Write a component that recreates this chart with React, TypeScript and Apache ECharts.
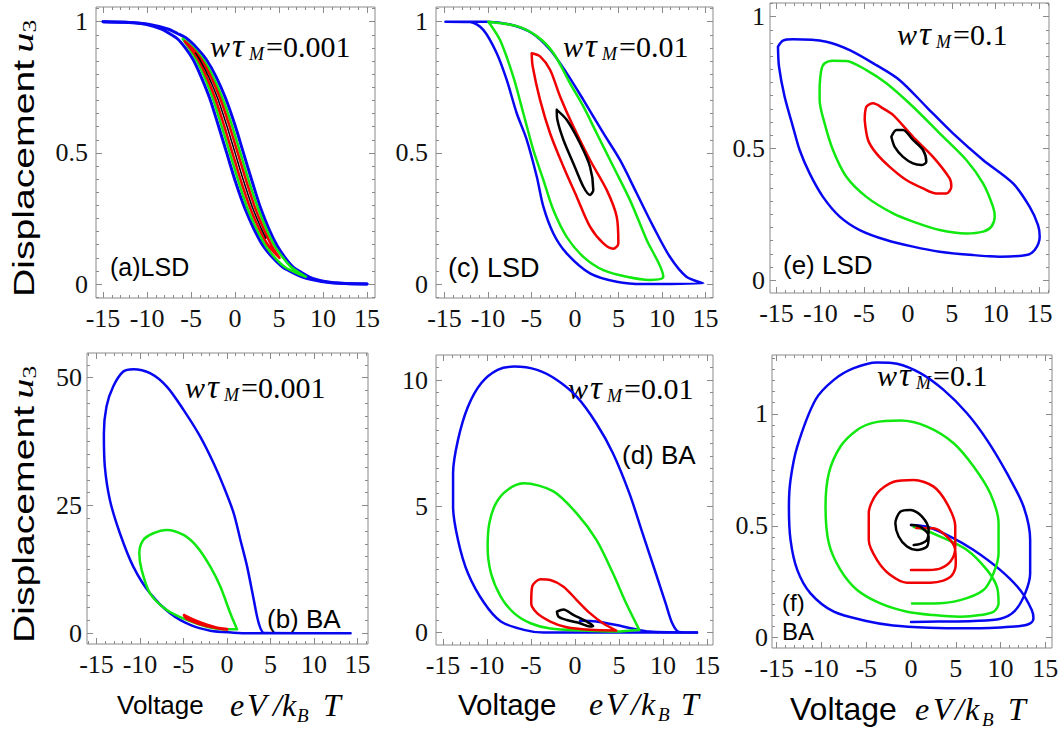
import React, { useEffect, useRef } from 'react';
import * as echarts from 'echarts';

type Pt = [number, number];

// ---------- tick labels ----------
const xTicks = [-15, -10, -5, 0, 5, 10, 15];
const yTicksUnit = [0, 0.5, 1];
const yTicksB = [0, 25, 50];
const yTicksD = [0, 5, 10];
const wValues = ['0.001', '0.01', '0.1'];

// ---------- (a) LSD, w tau = 0.001 ----------
const aBlueUpper: Pt[] = [[-15,1],[-11.95,0.997],[-9.85,0.99],[-7.65,0.972],[-6.55,0.955],[-5.45,0.935],[-4.35,0.9],[-3.25,0.855],[-2.15,0.79],[-1.1,0.71],[-0.05,0.61],[0.95,0.5],[1.95,0.39],[2.9,0.29],[3.85,0.21],[4.8,0.145],[5.7,0.1],[6.6,0.065],[7.5,0.045],[8.4,0.028],[9.3,0.017],[10.2,0.01],[12.1,0.003],[15,0]];
const aBlueLower: Pt[] = [[15,0],[11.9,0.003],[9.8,0.01],[8.7,0.017],[7.6,0.028],[6.5,0.045],[5.4,0.065],[4.3,0.1],[3.2,0.145],[2.15,0.21],[1.1,0.29],[0.05,0.39],[-0.95,0.5],[-1.95,0.61],[-2.9,0.71],[-3.85,0.79],[-4.75,0.855],[-5.65,0.9],[-6.55,0.935],[-7.45,0.955],[-8.35,0.972],[-10.15,0.99],[-12.05,0.997],[-15,1]];
const aGreen: Pt[] = [[-5.95,0.935],[-4.75,0.9],[-3.6,0.855],[-2.5,0.79],[-1.45,0.71],[-0.4,0.61],[0.6,0.5],[1.6,0.39],[2.6,0.29],[3.55,0.21],[4.5,0.145],[5.45,0.1],[6.35,0.065],[7.2,0.045],[8.05,0.028],[6.8,0.045],[5.65,0.065],[4.55,0.1],[3.5,0.145],[2.45,0.21],[1.4,0.29],[0.4,0.39],[-0.6,0.5],[-1.6,0.61],[-2.55,0.71],[-3.5,0.79],[-4.4,0.855],[-5.25,0.9],[-5.95,0.935]];
const aRed: Pt[] = [[-5.7,0.925],[-4.9,0.9],[-3.82,0.855],[-2.75,0.79],[-1.72,0.71],[-0.7,0.61],[0.3,0.5],[1.3,0.39],[2.28,0.29],[3.25,0.21],[4.18,0.145],[5.05,0.1],[3.82,0.145],[2.75,0.21],[1.72,0.29],[0.7,0.39],[-0.3,0.5],[-1.3,0.61],[-2.28,0.71],[-3.25,0.79],[-4.18,0.855],[-5.1,0.9],[-5.7,0.925]];
const aBlack: Pt[] = [[-4.5,0.88],[-4,0.855],[-3,0.79],[-2,0.71],[-1,0.61],[0,0.5],[1,0.39],[2,0.29],[3,0.21],[3.5,0.175]];

// ---------- (c) LSD, w tau = 0.01 ----------
const cBlue: Pt[] = [[-14.9,1],[-10.15,1],[-7.47,0.989],[-4.98,0.957],[-2.87,0.893],[-0.96,0.804],[0.96,0.702],[3.26,0.575],[5.17,0.473],[7.09,0.346],[9.0,0.219],[10.9,0.104],[12.8,0.028],[14.75,0.003],[7.85,0],[4.79,0.009],[1.72,0.041],[-0.96,0.117],[-2.49,0.193],[-3.64,0.295],[-4.4,0.41],[-5.55,0.55],[-6.7,0.651],[-7.85,0.778],[-9.0,0.88],[-10.54,0.969],[-12.07,0.999],[-14.9,1]];
const cGreen: Pt[] = [[-9.96,1],[-6.7,0.983],[-4.4,0.945],[-2.49,0.881],[-0.57,0.765],[0.96,0.677],[2.49,0.575],[4.4,0.448],[6.32,0.32],[8.24,0.168],[10.15,0.028],[8.6,0.016],[5.94,0.028],[3.26,0.053],[0.96,0.104],[-0.96,0.18],[-2.49,0.282],[-3.64,0.397],[-4.79,0.511],[-5.94,0.651],[-7.09,0.79],[-8.62,0.93],[-9.96,1]];
const cRed: Pt[] = [[-4.98,0.88],[-4.02,0.868],[-2.87,0.817],[-1.72,0.715],[-0.19,0.6],[1.72,0.473],[3.64,0.359],[4.79,0.257],[4.98,0.155],[4.4,0.135],[3.26,0.155],[1.72,0.219],[0.19,0.333],[-1.34,0.448],[-2.87,0.575],[-4.02,0.702],[-4.87,0.83],[-4.98,0.88]];
const cBlack: Pt[] = [[-2.1,0.664],[-0.96,0.626],[0.57,0.537],[1.72,0.448],[2.1,0.359],[1.72,0.34],[0.96,0.371],[-0.19,0.46],[-1.34,0.55],[-2.03,0.626],[-2.1,0.664]];

// ---------- (e) LSD, w tau = 0.1 ----------
const eBlue: Pt[] = [[-14.83,0.886],[-14.26,0.909],[-13.12,0.914],[-9.32,0.905],[-6.65,0.873],[-3.61,0.816],[-0.95,0.759],[2.09,0.658],[5.13,0.557],[8.56,0.456],[11.98,0.367],[13.88,0.278],[14.83,0.209],[15.02,0.165],[14.45,0.114],[13.5,0.095],[10.46,0.089],[7.41,0.095],[3.61,0.108],[0.57,0.127],[-2.47,0.152],[-5.51,0.19],[-7.79,0.241],[-9.7,0.316],[-11.22,0.405],[-12.36,0.494],[-13.12,0.582],[-14.07,0.696],[-14.71,0.81],[-14.83,0.886]];
const eGreen: Pt[] = [[-10.08,0.734],[-9.89,0.797],[-9.51,0.823],[-8.56,0.833],[-7.03,0.832],[-4.75,0.797],[-2.47,0.747],[0.57,0.658],[3.61,0.557],[6.65,0.456],[8.56,0.367],[9.7,0.278],[9.89,0.241],[9.51,0.203],[8.56,0.184],[6.65,0.177],[3.61,0.19],[0.57,0.222],[-1.71,0.253],[-4.75,0.316],[-7.03,0.392],[-8.56,0.494],[-9.51,0.595],[-10.08,0.684],[-10.08,0.734]];
const eRed: Pt[] = [[-4.94,0.608],[-4.75,0.658],[-3.99,0.671],[-2.85,0.652],[-1.71,0.627],[0.57,0.544],[2.85,0.468],[4.75,0.386],[4.94,0.354],[4.37,0.329],[3.23,0.329],[1.71,0.348],[-0.19,0.38],[-2.09,0.43],[-3.61,0.481],[-4.56,0.532],[-4.94,0.608]];
const eBlack: Pt[] = [[-1.9,0.544],[-1.33,0.57],[-0.57,0.57],[0.57,0.532],[1.71,0.494],[2.09,0.449],[1.52,0.437],[0.57,0.443],[-0.57,0.468],[-1.52,0.506],[-1.9,0.544]];

// ---------- (b) BA, w tau = 0.001 ----------
const bBlue: Pt[] = [[14.2,0],[4.3,0.05],[3.65,1.96],[3.08,6.52],[2.31,13.04],[1.54,18.25],[0.77,23.47],[-0.38,28.68],[-1.54,33.25],[-3.08,38.46],[-5.0,43.68],[-6.92,48.24],[-8.85,50.85],[-10.77,51.63],[-11.92,51.17],[-13.08,48.24],[-13.85,44.33],[-14.15,39.11],[-14.04,32.59],[-13.46,26.08],[-12.31,19.56],[-10.77,13.04],[-8.85,7.82],[-6.54,3.91],[-4.23,1.63],[-1.92,0.52],[0.77,0.13],[2.5,0],[4.5,0]];
const bGreen: Pt[] = [[1.15,0.78],[0.38,3.91],[-0.77,9.13],[-1.92,13.04],[-3.46,16.95],[-5.0,19.23],[-6.92,20.21],[-8.46,19.56],[-9.62,18.25],[-10.08,15.65],[-9.81,12.39],[-8.85,7.82],[-6.92,4.56],[-4.62,2.61],[-2.31,1.3],[0,0.78],[1.15,0.78]];
const bRed: Pt[] = [[-4.92,3.52],[-3.85,2.61],[-2.31,1.63],[-0.77,0.91],[0,0.78],[-1.54,1.17],[-3.08,1.83],[-4.62,2.87],[-4.92,3.52]];

// ---------- (d) BA, w tau = 0.01 ----------
const dBlueStart: Pt[] = [[0.56,0.47],[2.43,0.44],[4.68,0.3],[6.93,0.13],[8.43,0.04],[11,0.01],[13.86,0]];
const dBlue: Pt[] = [[13.86,0],[-3.56,0],[-5.81,0.11],[-8.43,0.44],[-10.3,1.16],[-12.17,2.35],[-13.3,3.67],[-13.86,4.99],[-13.86,6.31],[-13.3,7.63],[-12.17,8.94],[-10.67,9.87],[-8.8,10.4],[-6.93,10.53],[-4.31,10.4],[-2.06,10.0],[0.19,9.34],[2.43,8.28],[4.31,7.1],[6.18,5.51],[7.68,3.93],[9.18,2.35],[10.3,1.16],[11.05,0.37],[11.8,0.03],[13.86,0]];
const dGreen: Pt[] = [[7.3,0.11],[5.81,1.16],[4.31,2.35],[2.43,3.67],[0.19,4.72],[-2.5,5.6],[-5.81,5.91],[-7.68,5.65],[-8.99,5.12],[-9.74,4.33],[-9.93,3.4],[-9.55,2.35],[-8.43,1.42],[-6.93,0.77],[-5.06,0.37],[-2.81,0.16],[0.94,0.08],[4.68,0.04],[7.3,0.11]];
const dRed: Pt[] = [[4.68,0.08],[3.18,0.37],[1.69,0.77],[0.19,1.29],[-1.31,1.82],[-2.81,2.08],[-3.93,2.11],[-4.87,1.82],[-4.98,1.16],[-4.31,0.77],[-2.81,0.44],[-0.94,0.21],[1.69,0.11],[4.68,0.08]];
const dBlack: Pt[] = [[-2.06,0.83],[-1.31,0.92],[-0.19,0.7],[1.31,0.44],[2.06,0.26],[1.69,0.24],[0.56,0.37],[-0.94,0.5],[-1.87,0.63],[-2.06,0.83]];

// ---------- (f) BA, w tau = 0.1 ----------
const fBlue: Pt[] = [[0,0.504],[1.78,0.496],[4.39,0.452],[6.99,0.392],[9.96,0.303],[12.19,0.213],[13.49,0.124],[13.68,0.086],[13.31,0.064],[12.19,0.052],[9.96,0.046],[6,0.042],[2,0.045],[-2,0.055],[-5,0.075],[-8.62,0.116],[-11.23,0.198],[-12.71,0.303],[-13.46,0.437],[-13.64,0.586],[-13.46,0.705],[-12.71,0.854],[-10.67,1.063],[-8.62,1.152],[-6.39,1.204],[-3.79,1.23],[-1.56,1.224],[1.04,1.182],[3.64,1.107],[6.25,1.003],[8.48,0.884],[10.71,0.735],[12.57,0.586],[13.31,0.437],[13.31,0.288],[12.75,0.198],[11.6,0.12],[10,0.085],[7,0.075],[3,0.072],[0,0.07]];
const fGreen: Pt[] = [[0.3,0.495],[1.04,0.489],[3.27,0.452],[6.25,0.392],[8.48,0.303],[9.59,0.228],[9.78,0.153],[9.22,0.116],[7.73,0.101],[5.5,0.094],[2.53,0.101],[-0.45,0.116],[-3.42,0.153],[-6.02,0.213],[-7.88,0.303],[-9.18,0.422],[-9.55,0.586],[-9.18,0.735],[-7.88,0.854],[-6.02,0.928],[-4.16,0.961],[-1.19,0.97],[1.78,0.943],[4.76,0.869],[6.99,0.765],[8.85,0.645],[9.78,0.511],[9.78,0.377],[9.22,0.288],[8.1,0.213],[5.5,0.168],[2.53,0.153],[0.11,0.153]];
const fRed: Pt[] = [[0.6,0.49],[2.53,0.489],[4.01,0.452],[4.9,0.4],[5.0,0.33],[4.6,0.28],[3.6,0.255],[2.16,0.246],[-0.45,0.246],[-2.3,0.28],[-3.79,0.347],[-4.72,0.437],[-4.72,0.556],[-3.79,0.645],[-1.93,0.697],[0.3,0.705],[2.53,0.675],[4.01,0.6],[4.94,0.5],[4.94,0.4],[4.4,0.34],[3.3,0.31],[2.0,0.303],[0,0.303]];
const fBlack: Pt[] = [[0,0.504],[1.04,0.496],[1.97,0.452],[1.78,0.407],[0.67,0.392],[-0.45,0.407],[-1.38,0.452],[-1.75,0.511],[-1.19,0.563],[-0.07,0.571],[1.23,0.541],[1.97,0.481],[1.78,0.437],[1.04,0.419],[0.3,0.414]];

// ---------- styles ----------
const BLUE = '#0808f0';
const GREEN = '#10e810';
const RED = '#f00000';
const BLACK = '#000000';
const FRAME = '#8a8a8a';
const SERIF = 'Liberation Serif';
const SANS = 'Liberation Sans';

type SeriesSpec = { data: Pt[]; color: string; width: number };
type PanelSpec = {
  grid: [number, number, number, number];
  x: [number, number];
  y: [number, number];
  yTicks: number[];
  yMinor: number;
  yMargin: number;
  lines: SeriesSpec[];
};

const panels: PanelSpec[] = [
  { grid: [96, 7, 279, 291], x: [-15.8, 15.9], y: [-0.053, 1.056], yTicks: yTicksUnit, yMinor: 0.05, yMargin: 8,
    lines: [
      { data: aBlueUpper, color: BLUE, width: 3 }, { data: aBlueLower, color: BLUE, width: 3 },
      { data: aGreen, color: GREEN, width: 2.5 }, { data: aRed, color: RED, width: 2.5 }, { data: aBlack, color: BLACK, width: 1.5 },
    ] },
  { grid: [436, 7, 277, 291], x: [-15.98, 15.86], y: [-0.053, 1.056], yTicks: yTicksUnit, yMinor: 0.05, yMargin: 8,
    lines: [
      { data: cBlue, color: BLUE, width: 2.5 }, { data: cGreen, color: GREEN, width: 2.5 },
      { data: cRed, color: RED, width: 2.5 }, { data: cBlack, color: BLACK, width: 2.5 },
    ] },
  { grid: [770, 3, 279, 290], x: [-15.74, 16.08], y: [-0.049, 1.052], yTicks: yTicksUnit, yMinor: 0.05, yMargin: 5,
    lines: [
      { data: eBlue, color: BLUE, width: 2.5 }, { data: eGreen, color: GREEN, width: 2.5 },
      { data: eRed, color: RED, width: 2.5 }, { data: eBlack, color: BLACK, width: 2.5 },
    ] },
  { grid: [87, 353, 281, 291], x: [-16.09, 16.2], y: [-2.09, 54.8], yTicks: yTicksB, yMinor: 2.5, yMargin: 5,
    lines: [
      { data: bBlue, color: BLUE, width: 2.5 }, { data: bGreen, color: GREEN, width: 2.5 },
      { data: bRed, color: RED, width: 3 },
    ] },
  { grid: [436, 355, 277, 290], x: [-15.8, 15.68], y: [-0.49, 10.99], yTicks: yTicksD, yMinor: 0.5, yMargin: 8,
    lines: [
      { data: dBlueStart, color: BLUE, width: 2.5 }, { data: dBlue, color: BLUE, width: 2.5 },
      { data: dGreen, color: GREEN, width: 2.5 }, { data: dRed, color: RED, width: 2.5 },
      { data: dBlack, color: BLACK, width: 2.5 },
    ] },
  { grid: [772, 355, 280, 293], x: [-15.53, 15.75], y: [-0.046, 1.263], yTicks: yTicksUnit, yMinor: 0.05, yMargin: 4,
    lines: [
      { data: fBlue, color: BLUE, width: 2.5 }, { data: fGreen, color: GREEN, width: 2.5 },
      { data: fRed, color: RED, width: 2.5 }, { data: fBlack, color: BLACK, width: 2.5 },
    ] },
];

function steps(min: number, max: number, step: number): number[] {
  const out: number[] = [];
  const k0 = Math.ceil(min / step - 1e-9);
  const k1 = Math.floor(max / step + 1e-9);
  for (let k = k0; k <= k1; k++) out.push(Math.round(k * step * 10000) / 10000);
  return out;
}

function txt(text: string, x: number, y: number, fs: number, family: string, italic = false): any {
  return {
    type: 'text', x, y, silent: true,
    style: { text, fontSize: fs, fontFamily: family, fontStyle: italic ? 'italic' : 'normal', fill: '#000', align: 'left', verticalAlign: 'middle' },
  };
}

function wtau(x0: number, yc: number, val: string): any[] {
  return [
    txt('w', x0, yc, 30, SERIF, true),
    txt('τ', x0 + 22, yc, 33, SERIF, true),
    txt('M', x0 + 39, yc + 8, 18, SERIF, true),
    txt('=' + val, x0 + 56, yc, 30, SERIF),
  ];
}

function ylab(x: number, yBottom: number): any {
  return {
    type: 'group', x, y: yBottom, rotation: Math.PI / 2, scaleX: 1.35,
    children: [
      txt('Displacement', 0, 0, 29, SANS),
      txt('u', 181, -1, 30, SERIF, true),
      txt('3', 196, 6, 19, SERIF),
    ],
  };
}

function xlab(v: number, vs: number, xs: number[], yc: number): any[] {
  return [
    txt('Voltage', v, yc, vs, SANS),
    txt('e', xs[0], yc, 32, SERIF, true),
    txt('V', xs[1], yc, 32, SERIF, true),
    txt('/', xs[2], yc, 32, SERIF, true),
    txt('k', xs[3], yc, 32, SERIF, true),
    txt('B', xs[4], yc + 10, 19, SERIF, true),
    txt('T', xs[5], yc, 32, SERIF, true),
  ];
}

function buildOption(): any {
  const grids: any[] = [];
  const xAxes: any[] = [];
  const yAxes: any[] = [];
  const series: any[] = [];
  const n = panels.length;
  const tickLine = { color: FRAME, width: 1 };
  const labelStyle = { fontFamily: SERIF, fontSize: 26, color: '#111', hideOverlap: false };

  panels.forEach((p) => {
    grids.push({ left: p.grid[0], top: p.grid[1], width: p.grid[2], height: p.grid[3], show: true, borderColor: FRAME, borderWidth: 1, backgroundColor: 'transparent', containLabel: false, outerBoundsMode: 'none' });
  });
  panels.forEach((p) => {
    grids.push({ left: p.grid[0], top: p.grid[1], width: p.grid[2], height: p.grid[3], show: false, containLabel: false, outerBoundsMode: 'none' });
  });

  const axisBase = (gridIndex: number, min: number, max: number, position: string) => ({
    type: 'value', gridIndex, min, max, position, scale: true,
    axisLine: { show: false, onZero: false }, splitLine: { show: false }, minorTick: { show: false },
  });

  panels.forEach((p, i) => {
    const xMaj = xTicks.filter((v) => v >= p.x[0] && v <= p.x[1]);
    const yMaj = p.yTicks.filter((v) => v >= p.y[0] && v <= p.y[1]);
    xAxes.push({ ...axisBase(i, p.x[0], p.x[1], 'bottom'),
      axisTick: { show: true, inside: true, length: 6, customValues: xMaj, lineStyle: tickLine },
      axisLabel: { show: true, customValues: xMaj, margin: 7, ...labelStyle } });
    xAxes.push({ ...axisBase(i, p.x[0], p.x[1], 'top'),
      axisTick: { show: true, inside: true, length: 6, customValues: xMaj, lineStyle: tickLine },
      axisLabel: { show: false } });
    yAxes.push({ ...axisBase(i, p.y[0], p.y[1], 'left'),
      axisTick: { show: true, inside: true, length: 6, customValues: yMaj, lineStyle: tickLine },
      axisLabel: { show: true, customValues: yMaj, margin: p.yMargin, ...labelStyle } });
    yAxes.push({ ...axisBase(i, p.y[0], p.y[1], 'right'),
      axisTick: { show: true, inside: true, length: 6, customValues: yMaj, lineStyle: tickLine },
      axisLabel: { show: false } });
  });
  panels.forEach((p, i) => {
    const xMin = steps(p.x[0], p.x[1], 1);
    const yMin = steps(p.y[0], p.y[1], p.yMinor);
    ['bottom', 'top'].forEach((pos) => {
      xAxes.push({ ...axisBase(n + i, p.x[0], p.x[1], pos),
        axisTick: { show: true, inside: true, length: 3, customValues: xMin, lineStyle: tickLine },
        axisLabel: { show: false } });
    });
    ['left', 'right'].forEach((pos) => {
      yAxes.push({ ...axisBase(n + i, p.y[0], p.y[1], pos),
        axisTick: { show: true, inside: true, length: 3, customValues: yMin, lineStyle: tickLine },
        axisLabel: { show: false } });
    });
  });

  panels.forEach((p, i) => {
    p.lines.forEach((l) => {
      series.push({
        type: 'line', xAxisIndex: 2 * i, yAxisIndex: 2 * i, data: l.data,
        symbol: 'none', showSymbol: false, smooth: 0.3, silent: true, clip: true,
        lineStyle: { color: l.color, width: l.width, join: 'round', cap: 'round' },
      });
    });
  });

  const elements: any[] = [
    ...wtau(210, 46, wValues[0]),
    ...wtau(563, 46, wValues[1]),
    ...wtau(897, 34, wValues[2]),
    ...wtau(185, 387, wValues[0]),
    ...wtau(568, 388, wValues[1]),
    ...wtau(877, 375, wValues[2]),
    txt('(a)LSD', 110, 267, 25, SANS),
    txt('(c) LSD', 448, 268, 27, SANS),
    txt('(e) LSD', 783, 265, 26, SANS),
    txt('(b) BA', 267, 619, 26, SANS),
    txt('(d) BA', 622, 455, 26, SANS),
    txt('(f)', 782, 602, 24, SANS),
    txt('BA', 782, 631, 24, SANS),
    ylab(24, 297),
    ylab(24, 643),
    ...xlab(117, 26, [230, 247, 273, 282, 297, 323], 705),
    ...xlab(458, 29.5, [589, 606, 631, 641, 658, 681], 704),
    ...xlab(790, 32, [915, 933, 955, 965, 982, 1008], 709),
  ];

  return {
    animation: false,
    backgroundColor: '#ffffff',
    grid: grids,
    xAxis: xAxes,
    yAxis: yAxes,
    series,
    graphic: { elements },
  };
}

export default function App() {
  const ref = useRef<HTMLDivElement>(null);
  useEffect(() => {
    if (!ref.current) return;
    const chart = echarts.init(ref.current, undefined, { renderer: 'svg' });
    chart.setOption(buildOption());
    return () => chart.dispose();
  }, []);
  return (
    <div
      ref={ref}
      style={{ position: 'absolute', left: 0, top: 0, width: 1059, height: 736, background: '#fff' }}
    />
  );
}
